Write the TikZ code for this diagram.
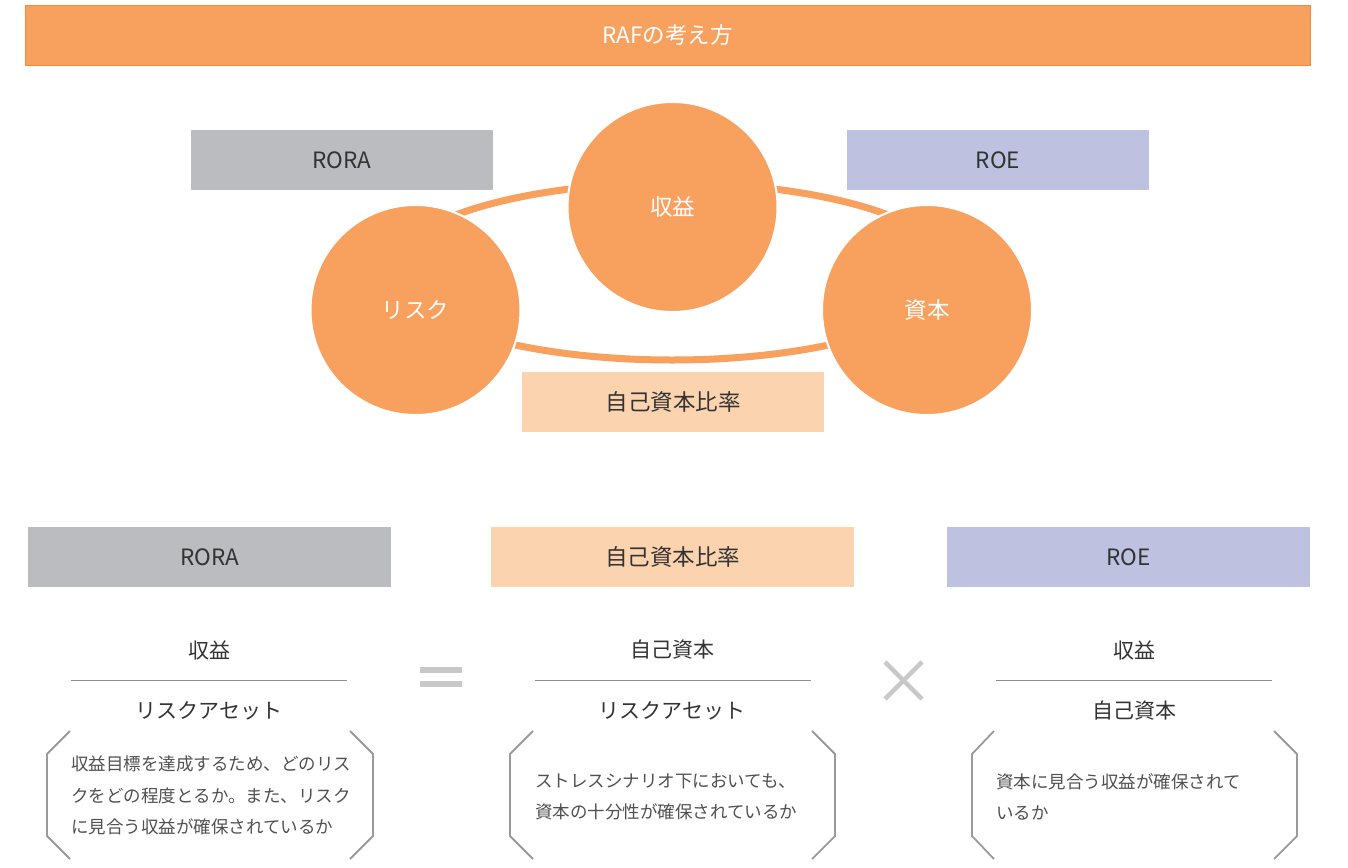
\documentclass[tikz,border=0pt]{standalone}
\usepackage{fontspec}
\setmainfont{Noto Sans CJK JP}
\definecolor{orangeA}{HTML}{F8A05E}
\definecolor{orangeB}{HTML}{F28C3C}
\definecolor{grayBox}{HTML}{BBBCC0}
\definecolor{lavBox}{HTML}{BEC2E0}
\definecolor{peachBox}{HTML}{FCD3AF}
\definecolor{txtDark}{HTML}{333333}
\definecolor{txtMid}{HTML}{505050}
\definecolor{ruleGray}{HTML}{8C8C8C}
\definecolor{symGray}{HTML}{C8C8C8}
\definecolor{brkGray}{HTML}{9A9A9A}
\tikzset{
  labelbox/.style={minimum height=60pt, inner sep=0pt, text=txtDark, font=\fontsize{22.5}{26}\selectfont},
  ballnode/.style={circle, fill=orangeA, draw=white, line width=2pt, minimum size=210pt, inner sep=0pt, text=white, font=\fontsize{22.5}{26}\selectfont},
  fractext/.style={text=txtDark, font=\fontsize{21}{25}\selectfont, inner sep=0pt},
  fracrule/.style={draw=ruleGray, line width=0.9pt},
  bodytext/.style={text=txtMid, font=\fontsize{17.5}{31.5}\selectfont, align=left, inner sep=0pt, anchor=north west},
  bracket/.style={draw=brkGray, line width=1.8pt},
  symline/.style={draw=symGray, line width=4.5pt}
}
\begin{document}
\begin{tikzpicture}[x=1pt,y=-1pt]
\useasboundingbox (0,0) rectangle (1348,867);
\fill[white] (0,0) rectangle (1348,867);
% title bar
\node[fill=orangeA, draw=orangeB, line width=0.8pt, minimum width=1285pt, minimum height=60pt, inner sep=0pt, text=white, font=\fontsize{22.5}{26}\selectfont] (title) at (667.5,35) {RAFの考え方};
% top label boxes
\node[labelbox, fill=grayBox, minimum width=302pt] (roraT) at (342,160) {RORA};
\node[labelbox, fill=lavBox, minimum width=302pt] (roeT) at (998,160) {ROE};
\node[labelbox, fill=peachBox, minimum width=302pt] (ratioT) at (673,402) {自己資本比率};
% ring
\draw[orangeA, line width=7pt] (672,271.5) ellipse [x radius=281pt, y radius=88.5pt];
% circles
\node[ballnode] (shueki) at (672.5,207) {収益};
\node[ballnode] (risk) at (415.5,310) {リスク};
\node[ballnode] (shihon) at (927,310) {資本};
% bottom label boxes
\node[labelbox, fill=grayBox, minimum width=363pt] (roraB) at (209.5,557) {RORA};
\node[labelbox, fill=peachBox, minimum width=363pt] (ratioB) at (672.5,557) {自己資本比率};
\node[labelbox, fill=lavBox, minimum width=363pt] (roeB) at (1128.5,557) {ROE};
% fractions
\node[fractext] (n1) at (209,650) {収益};
\node[fractext] (d1) at (209,711) {リスクアセット};
\coordinate (l1a) at (71,680); \coordinate (l1b) at (347,680);
\draw[fracrule] (l1a) -- (l1b);
\node[fractext] (n2) at (672,650) {自己資本};
\node[fractext] (d2) at (672,711) {リスクアセット};
\coordinate (l2a) at (535,680); \coordinate (l2b) at (811,680);
\draw[fracrule] (l2a) -- (l2b);
\node[fractext] (n3) at (1134,650) {収益};
\node[fractext] (d3) at (1134,711) {自己資本};
\coordinate (l3a) at (996,680); \coordinate (l3b) at (1272,680);
\draw[fracrule] (l3a) -- (l3b);
% equals and times
\draw[symGray, line width=5.5pt] (420,670) -- (462,670);
\draw[symGray, line width=5.5pt] (420,684) -- (462,684);
\draw[symline] (885,662) -- (922,699);
\draw[symline] (885,699) -- (922,662);
% brackets
\draw[bracket] (70,731) -- (47,754) -- (47,836) -- (70,859);
\draw[bracket] (350,731) -- (373,754) -- (373,836) -- (350,859);
\draw[bracket] (533,731) -- (510,754) -- (510,836) -- (533,859);
\draw[bracket] (812,731) -- (835,754) -- (835,836) -- (812,859);
\draw[bracket] (994,731) -- (972,754) -- (972,836) -- (994,859);
\draw[bracket] (1274,731) -- (1297,754) -- (1297,836) -- (1274,859);
% body texts
\node[bodytext] (t1) at (71,756) {収益目標を達成するため、どのリス\\クをどの程度とるか。また、リスク\\に見合う収益が確保されているか};
\node[bodytext] (t2) at (535,773) {ストレスシナリオ下においても、\\資本の十分性が確保されているか};
\node[bodytext] (t3) at (996,773) {資本に見合う収益が確保されて\\いるか};
\end{tikzpicture}
\end{document}
